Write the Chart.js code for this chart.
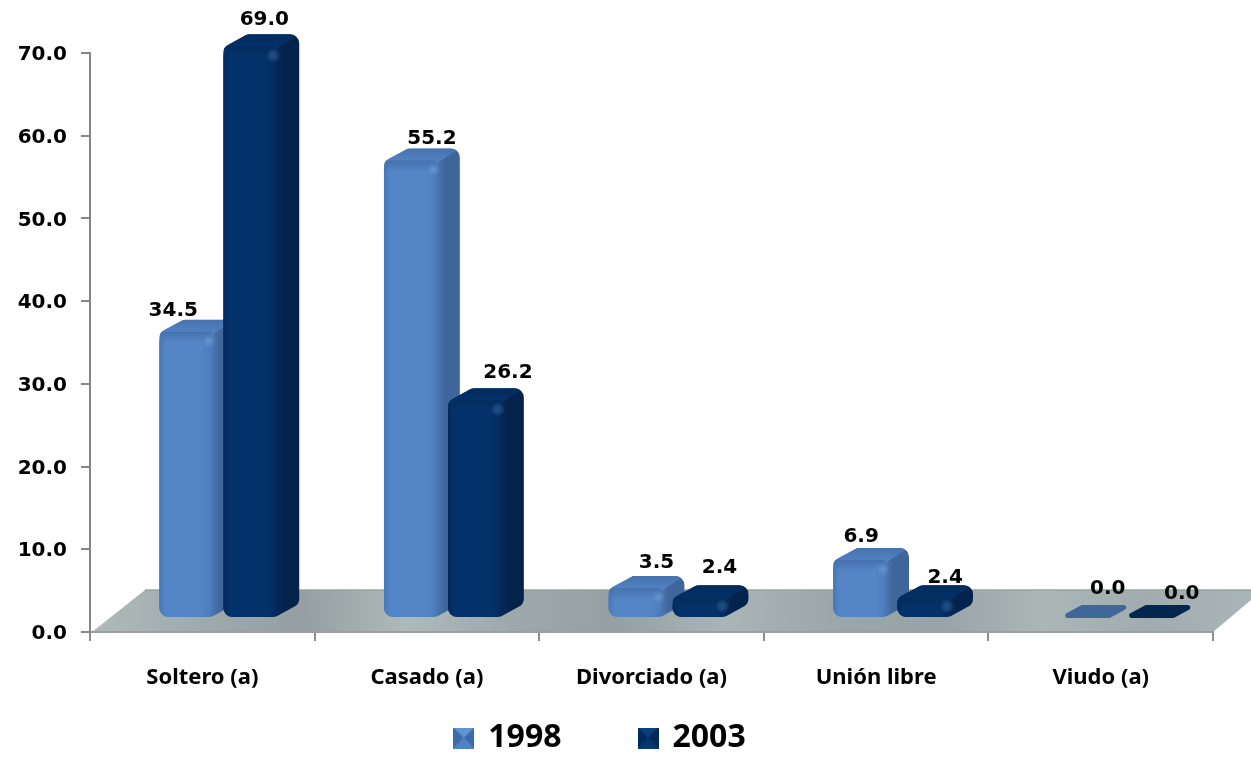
<!DOCTYPE html>
<html>
<head>
<meta charset="utf-8">
<script src="https://cdn.jsdelivr.net/npm/chart.js@4"></script>
<style>
  body { margin: 0; background: #fff; }
  canvas { display: block; }
</style>
</head>
<body>
<canvas id="myChart" width="1251" height="757"></canvas>
<script>
var categories = ['Soltero (a)', 'Casado (a)', 'Divorciado (a)', 'Unión libre', 'Viudo (a)'];
var years = ['1998', '2003'];
var values1998 = [34.5, 55.2, 3.5, 6.9, 0.0];
var values2003 = [69.0, 26.2, 2.4, 2.4, 0.0];
var yTicks = [0, 10, 20, 30, 40, 50, 60, 70];

// the labels were moved by hand in the original, so each one has its own shift [x, y]
var labelShift1998 = [[-12, -36], [22, -37], [22, -40], [2, -38], [24, -43]];
var labelShift2003 = [[15, -41], [34, -42], [21, -44], [22, -34], [34, -38]];

var liftX = 15, liftY = 14;      // how far the front faces sit inside the floor
var depthX = 24, depthY = 13;    // bar depth
var floorX = 53, floorY = 42;    // floor depth

var skins = [
    { left: '#4777b3', front: '#5485c6', right: '#4d7dbc', side: '#3f669b', top: '#4672ad', flat: '#3f6899', glow: 'rgba(130,175,225,0.5)' },
    { left: '#03295a', front: '#03326a', right: '#032c5e', side: '#03234c', top: '#042c5e', flat: '#03264f', glow: 'rgba(60,110,165,0.5)' }
];

function roundedPath(ctx, pts, r) {
    var n = pts.length;
    ctx.beginPath();
    ctx.moveTo((pts[n - 1][0] + pts[0][0]) / 2, (pts[n - 1][1] + pts[0][1]) / 2);
    for (var i = 0; i < n; i++) {
        var next = pts[(i + 1) % n];
        ctx.arcTo(pts[i][0], pts[i][1], next[0], next[1], r);
    }
    ctx.closePath();
}

function legendIcon(a, b, c) {
    var cv = document.createElement('canvas');
    cv.width = 21; cv.height = 21;
    var g = cv.getContext('2d');
    g.fillStyle = a; g.fillRect(0, 0, 21, 21);
    g.fillStyle = b;
    g.beginPath(); g.moveTo(0, 0); g.lineTo(10.5, 10.5); g.lineTo(0, 21); g.fill();
    g.beginPath(); g.moveTo(21, 0); g.lineTo(10.5, 10.5); g.lineTo(21, 21); g.fill();
    g.fillStyle = c;
    g.beginPath(); g.moveTo(0, 21); g.lineTo(10.5, 10.5); g.lineTo(21, 21); g.fill();
    return cv;
}
var icons = [legendIcon('#5f94d6', '#3c6ba8', '#4f83c4'), legendIcon('#0a3f78', '#022a58', '#04376e')];

function boxShape(x0, x1, top, bot) {
    return [[x0, bot], [x0, top], [x0 + depthX, top - depthY], [x1 + depthX, top - depthY], [x1 + depthX, bot - depthY], [x1, bot]];
}

function drawBar3d(chart, meta, skin) {
    var ctx = chart.ctx;
    ctx.save();
    ctx.translate(liftX, -liftY);
    meta.data.forEach(function (el) {
        var x0 = el.x - el.width / 2, x1 = el.x + el.width / 2;
        var top = el.y, bot = el.base;
        if (bot - top < 1) {
            ctx.fillStyle = skin.flat;
            roundedPath(ctx, [[x0, bot], [x0 + depthX, bot - depthY], [x1 + depthX, bot - depthY], [x1, bot]], 2.5);
            ctx.fill();
            return;
        }
        ctx.save();
        roundedPath(ctx, boxShape(x0, x1, top, bot), 9);
        var sideFill = ctx.createLinearGradient(x1 - 2, 0, x1 + 9, 0);
        sideFill.addColorStop(0, skin.right);
        sideFill.addColorStop(1, skin.side);
        ctx.fillStyle = sideFill;
        ctx.fill();
        ctx.clip();
        var topFill = ctx.createLinearGradient(0, top - depthY, 0, top + 2);
        topFill.addColorStop(0, skin.top);
        topFill.addColorStop(1, skin.front);
        ctx.fillStyle = topFill;
        ctx.beginPath();
        ctx.moveTo(x0, top + 2);
        ctx.lineTo(x0 + depthX, top - depthY);
        ctx.lineTo(x1 + depthX, top - depthY);
        ctx.lineTo(x1, top + 2);
        ctx.closePath();
        ctx.fill();
        ctx.restore();

        var g = ctx.createLinearGradient(x0, 0, x1, 0);
        g.addColorStop(0, skin.left);
        g.addColorStop(0.12, skin.front);
        g.addColorStop(0.8, skin.front);
        g.addColorStop(1, skin.right);
        el.options = Object.assign({}, el.options, { backgroundColor: g });
    });
    // the bars themselves
    meta.controller.draw();
    meta.data.forEach(function (el) {
        var h = el.base - el.y;
        if (h < 12) return;
        var x0 = el.x - el.width / 2, x1 = el.x + el.width / 2;
        // soft bevel along the top of the front face
        ctx.save();
        roundedPath(ctx, boxShape(x0, x1, el.y, el.base), 9);
        ctx.clip();
        var bevel = ctx.createLinearGradient(0, el.y - 1, 0, el.y + 10);
        bevel.addColorStop(0, skin.top);
        bevel.addColorStop(1, skin.top + '00');
        ctx.fillStyle = bevel;
        ctx.fillRect(x0, el.y - 1, el.width, 11);
        ctx.restore();

        var cx = x1 - 2, cy = el.y + 8;
        var spot = ctx.createRadialGradient(cx, cy, 0, cx, cy, 7);
        spot.addColorStop(0, skin.glow);
        spot.addColorStop(1, 'rgba(120,170,220,0)');
        ctx.fillStyle = spot;
        ctx.fillRect(cx - 7, cy - 7, 14, 14);
    });
    ctx.restore();
}

var bars3d = {
    id: 'bars3d',
    beforeDraw: function (chart) {
        var ctx = chart.ctx, x = chart.scales.x, y = chart.scales.y;
        var b = y.getPixelForValue(0), l = x.left, r = x.right;
        var band = ctx.createLinearGradient(l, b, r + 40, b - 40);
        ['#b0babb', '#9fabad', '#959fa1', '#aeb9ba', '#9ca8aa', '#94a0a2', '#a9b5b6', '#9ba7a9', '#97a3a5', '#abb6b7', '#a0acae', '#a9b4b6']
            .forEach(function (c, i, all) { band.addColorStop(i / (all.length - 1), c); });
        ctx.save();
        ctx.fillStyle = band;
        ctx.beginPath();
        ctx.moveTo(l + 2, b);
        ctx.lineTo(l + floorX + 2, b - floorY);
        ctx.lineTo(chart.width, b - floorY);
        ctx.lineTo(chart.width, b - 32);
        ctx.lineTo(r, b);
        ctx.closePath();
        ctx.fill();
        ctx.strokeStyle = '#98a3a4';
        ctx.lineWidth = 1.5;
        ctx.beginPath();
        ctx.moveTo(l + floorX + 2, b - floorY);
        ctx.lineTo(chart.width, b - floorY);
        ctx.stroke();
        ctx.restore();
    },
    // 2003 has to sit over 1998, so the datasets are drawn here in index order
    beforeDatasetsDraw: function (chart) {
        var ctx = chart.ctx;
        drawBar3d(chart, chart.getDatasetMeta(0), skins[0]);
        drawBar3d(chart, chart.getDatasetMeta(1), skins[1]);
        ctx.save();
        ctx.font = 'bold 20px "DejaVu Sans"';
        ctx.fillStyle = '#000';
        ctx.textAlign = 'center';
        ctx.textBaseline = 'middle';
        [labelShift1998, labelShift2003].forEach(function (shift, d) {
            chart.getDatasetMeta(d).data.forEach(function (el, i) {
                var v = chart.data.datasets[d].data[i];
                ctx.fillText(v.toFixed(1), el.x + liftX + shift[i][0], el.y + shift[i][1]);
            });
        });
        ctx.restore();
        return false;
    },
    afterLayout: function (chart) {
        chart.legend.top = 644;
        chart.legend.left -= 6;
        chart.legend.right -= 6;
    }
};

var ctx = document.getElementById('myChart').getContext('2d');
var myChart = new Chart(ctx, {
    type: 'bar',
    data: {
        labels: categories,
        datasets: [{
            label: years[0],
            data: values1998,
            backgroundColor: skins[0].front
        }, {
            label: years[1],
            data: values2003,
            backgroundColor: skins[1].front
        }]
    },
    plugins: [bars3d],
    options: {
        responsive: false,
        animation: false,
        layout: { padding: { top: 53, right: 38, bottom: -65, left: 0 } },
        datasets: {
            bar: {
                categoryPercentage: 0.57,
                barPercentage: 0.81,
                borderRadius: 9,
                borderSkipped: false
            }
        },
        scales: {
            x: {
                afterFit: function (scale) { scale.height = 70; },
                grid: { drawOnChartArea: false, color: '#8a8f8f', tickLength: 9, lineWidth: 2 },
                border: { color: '#9a9f9f', width: 2 },
                ticks: { color: '#000', padding: 24, maxRotation: 0, font: { family: '"Noto Sans"', weight: 'bold', size: 22 } }
            },
            y: {
                min: 0,
                max: 70,
                afterFit: function (scale) { scale.width = 90; },
                afterBuildTicks: function (scale) {
                    scale.ticks = yTicks.map(function (v) { return { value: v }; });
                },
                grid: { drawOnChartArea: false, color: '#868686', tickLength: 9, lineWidth: 2 },
                border: { color: '#868686', width: 2 },
                ticks: {
                    color: '#000',
                    padding: 14,
                    labelOffset: 2,
                    font: { family: '"DejaVu Sans"', weight: 'bold', size: 20 },
                    callback: function (v) { return v.toFixed(1); }
                }
            }
        },
        plugins: {
            tooltip: { enabled: false },
            legend: {
                position: 'bottom',
                labels: {
                    color: '#000',
                    boxWidth: 17,
                    padding: 78,
                    usePointStyle: true,
                    font: { family: '"Noto Sans"', weight: 'bold', size: 32 },
                    generateLabels: function (chart) {
                        return Chart.defaults.plugins.legend.labels.generateLabels(chart).map(function (item) {
                            item.pointStyle = icons[item.datasetIndex];
                            return item;
                        });
                    }
                }
            }
        }
    }
});
</script>
</body>
</html>
